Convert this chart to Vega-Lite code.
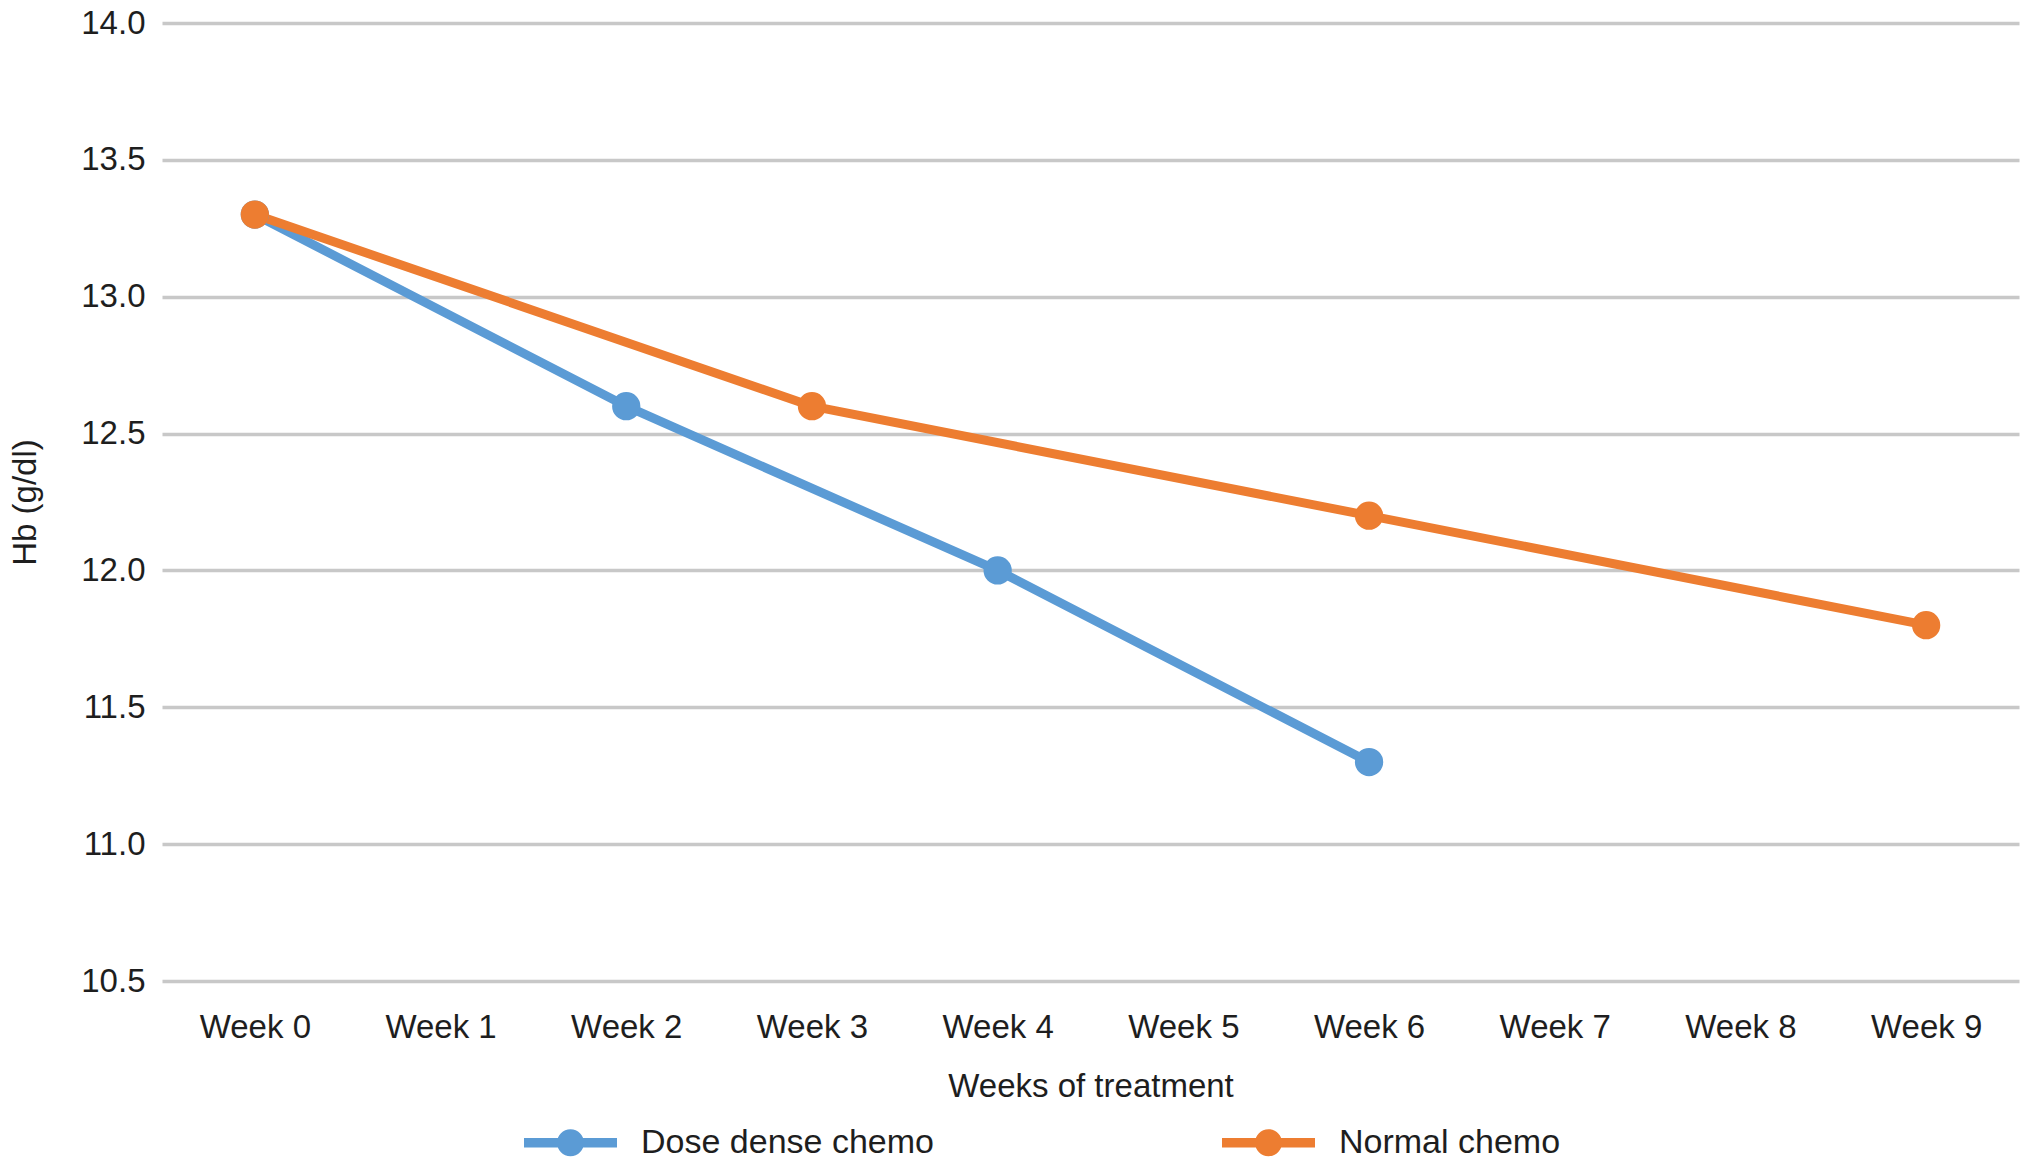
{
  "$schema": "https://vega.github.io/schema/vega-lite/v6.json",
  "autosize": {"type": "none"},
  "padding": {"left": 162, "top": 23, "right": 13, "bottom": 188},
  "width": 1857,
  "height": 958,
  "background": "white",
  "config": {
    "view": {"stroke": null},
    "font": "Liberation Sans",
    "axis": {"labelFont": "Liberation Sans", "titleFont": "Liberation Sans", "labelColor": "#1e1e1e", "titleColor": "#1e1e1e", "titleFontWeight": "normal"}
  },
  "data": {
    "values": [
      {"week": "Week 0", "hb": 13.3, "group": "Dose dense chemo"},
      {"week": "Week 2", "hb": 12.6, "group": "Dose dense chemo"},
      {"week": "Week 4", "hb": 12.0, "group": "Dose dense chemo"},
      {"week": "Week 6", "hb": 11.3, "group": "Dose dense chemo"},
      {"week": "Week 0", "hb": 13.3, "group": "Normal chemo"},
      {"week": "Week 3", "hb": 12.6, "group": "Normal chemo"},
      {"week": "Week 6", "hb": 12.2, "group": "Normal chemo"},
      {"week": "Week 9", "hb": 11.8, "group": "Normal chemo"}
    ]
  },
  "encoding": {
    "x": {
      "field": "week", "type": "nominal",
      "scale": {"type": "point", "padding": 0.5, "domain": ["Week 0","Week 1","Week 2","Week 3","Week 4","Week 5","Week 6","Week 7","Week 8","Week 9"]},
      "axis": {"title": "Weeks of treatment", "labelAngle": 0, "labelFontSize": 33, "titleFontSize": 33, "ticks": false, "domain": false, "grid": false, "labelPadding": 30, "titlePadding": 26}
    },
    "y": {
      "field": "hb", "type": "quantitative",
      "scale": {"domain": [10.5, 14], "nice": false, "zero": false},
      "axis": {"title": "Hb (g/dl)", "values": [10.5, 11, 11.5, 12, 12.5, 13, 13.5, 14], "format": ".1f", "labelFontSize": 33, "titleFontSize": 33, "ticks": false, "domain": false, "grid": true, "gridColor": "#c8c8c8", "gridWidth": 3.5, "labelPadding": 17, "titlePadding": 38}
    },
    "color": {
      "field": "group", "type": "nominal",
      "scale": {"domain": ["Dose dense chemo", "Normal chemo"], "range": ["#5b9bd5", "#ed7d31"]},
      "legend": {
        "title": null, "orient": "none", "legendX": 362, "legendY": 1073, "direction": "horizontal", "padding": 0,
        "symbolType": "M -1 -0.1 H 1 V 0.1 H -1 Z M 0.29 0 A 0.29 0.29 0 1 1 -0.29 0 A 0.29 0.29 0 1 1 0.29 0 Z",
        "symbolSize": 8649, "symbolStrokeWidth": 0, "symbolOpacity": 1,
        "labelFontSize": 34, "labelFont": "Liberation Sans", "labelColor": "#1e1e1e", "labelLimit": 500, "labelOffset": 24, "columnPadding": 288
      }
    }
  },
  "layer": [
    {"mark": {"type": "line", "strokeWidth": 9}},
    {"mark": {"type": "point", "filled": true, "opacity": 1, "size": 800}}
  ]
}
